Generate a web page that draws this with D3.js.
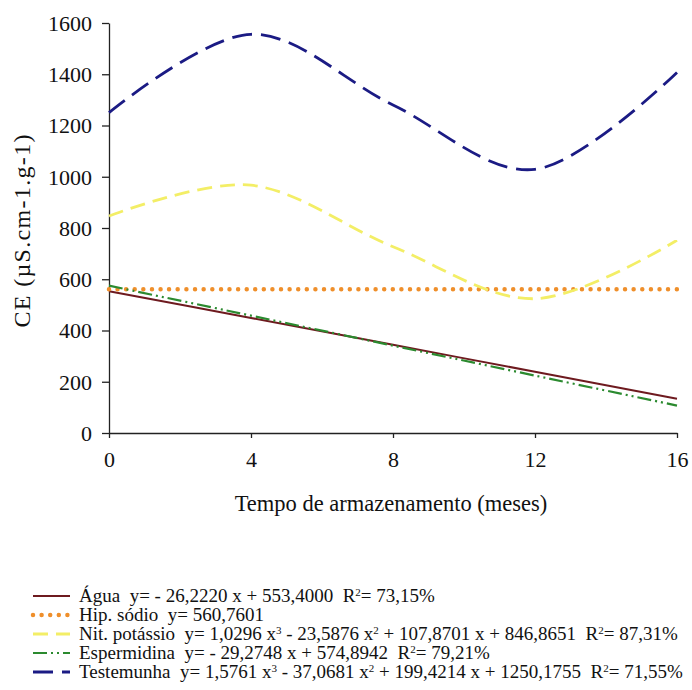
<!DOCTYPE html>
<html>
<head>
<meta charset="utf-8">
<script src="https://cdn.jsdelivr.net/npm/d3@7"></script>
<style>
  body { margin: 0; background: #fff; }
</style>
</head>
<body>
<div id="chart"></div>
<script>
// storage months (sampling points)
const months = [0, 4, 8, 12, 16];
const xTicks = [0, 4, 8, 12, 16];
const yTicks = [0, 200, 400, 600, 800, 1000, 1200, 1400, 1600];

// values at each month
const agua = [553, 449, 344, 239, 134];
const hipSodio = [561, 561, 561, 561, 561];
const nitPotassio = [847, 967, 727, 524, 752];
const espermidina = [575, 458, 341, 224, 107];
const testemunha = [1250, 1556, 1280, 1029, 1407];

const seriesNames = ["Água", "Hip. sódio", "Nit. potássio", "Espermidina", "Testemunha"];
const seriesValues = [agua, hipSodio, nitPotassio, espermidina, testemunha];
const legendLabels = [
  [["Água  y= - 26,2220 x + 553,4000  R"], ["2", 1], ["= 73,15%"]],
  [["Hip. sódio  y= 560,7601"]],
  [["Nit. potássio  y= 1,0296 x"], ["3", 1], [" - 23,5876 x"], ["2", 1], [" + 107,8701 x + 846,8651  R"], ["2", 1], ["= 87,31%"]],
  [["Espermidina  y= - 29,2748 x + 574,8942  R"], ["2", 1], ["= 79,21%"]],
  [["Testemunha  y= 1,5761 x"], ["3", 1], [" - 37,0681 x"], ["2", 1], [" + 199,4214 x + 1250,1755  R"], ["2", 1], ["= 71,55%"]]
];

const FONT = "Liberation Serif";

const styles = [
  { color: "#6e1a1f", width: 2, dash: null, cap: "butt" },
  { color: "#ef8f2b", width: 4.5, dash: "0 8.6", cap: "round" },
  { color: "#f3ee66", width: 2.8, dash: "15 8", cap: "butt" },
  { color: "#2b8a2f", width: 2.2, dash: "14 4 2 4 2 4", cap: "butt" },
  { color: "#1b1b84", width: 2.8, dash: "20 9", cap: "butt" }
];

const W = 692, H = 690;
const margin = { top: 23, left: 109, right: 15, bottom: 257 };

const svg = d3.select("#chart").append("svg")
  .attr("width", W).attr("height", H)
  .attr("viewBox", `0 0 ${W} ${H}`)
  .attr("font-family", FONT);

const x = d3.scaleLinear().domain([0, 16]).range([margin.left, W - margin.right]);
const y = d3.scaleLinear().domain([0, 1600]).range([H - margin.bottom, margin.top]);

// axes
const xAxis = svg.append("g")
  .attr("transform", `translate(0,${y(0)})`)
  .call(d3.axisBottom(x).tickValues(xTicks).tickFormat(d3.format("d"))
    .tickSize(5).tickSizeOuter(0).tickPadding(8));

const yAxis = svg.append("g")
  .attr("transform", `translate(${x(0)},0)`)
  .call(d3.axisLeft(y).tickValues(yTicks).tickFormat(d3.format("d"))
    .tickSize(7).tickSizeOuter(0).tickPadding(10));

svg.selectAll(".tick text")
  .attr("font-family", FONT)
  .attr("font-size", 22)
  .attr("fill", "#111");
xAxis.selectAll("text").attr("dy", "0.95em");
yAxis.selectAll("text").attr("dy", "0.34em");

svg.selectAll(".domain, .tick line").attr("stroke", "#222").attr("stroke-width", 1.3);

svg.append("text")
  .attr("x", (x(0) + x(16)) / 2 - 2)
  .attr("y", 511)
  .attr("text-anchor", "middle")
  .attr("font-size", 22.5)
  .attr("fill", "#111")
  .text("Tempo de armazenamento (meses)");

svg.append("text")
  .attr("transform", `translate(30,${y(800) + 3}) rotate(-90)`)
  .attr("text-anchor", "middle")
  .attr("font-size", 24)
  .attr("textLength", 193)
  .attr("lengthAdjust", "spacing")
  .attr("fill", "#111")
  .text("CE (µS.cm-1.g-1)");

// lines (smoothed through the sampling months)
const line = d3.line()
  .x((d, i) => x(months[i]))
  .y(d => y(d))
  .curve(d3.curveCardinal.tension(0));

svg.append("g").selectAll("path")
  .data(seriesValues)
  .enter()
  .append("path")
  .attr("d", d => line(d))
  .attr("fill", "none")
  .attr("stroke", (d, i) => styles[i].color)
  .attr("stroke-width", (d, i) => styles[i].width)
  .attr("stroke-dasharray", (d, i) => styles[i].dash)
  .attr("stroke-linecap", (d, i) => styles[i].cap);

// legend
const legend = svg.append("g");
const rowY = d3.scaleLinear().domain([0, 4]).range([596, 672]);

seriesNames.forEach((name, i) => {
  const st = styles[i];
  legend.append("line")
    .attr("x1", 33).attr("x2", 70)
    .attr("y1", rowY(i)).attr("y2", rowY(i))
    .attr("stroke", st.color)
    .attr("stroke-width", st.width)
    .attr("stroke-dasharray", st.dash)
    .attr("stroke-linecap", st.cap);

  const t = legend.append("text")
    .attr("x", 79)
    .attr("y", rowY(i) + 6)
    .attr("xml:space", "preserve")
    .attr("font-size", 19)
    .style("white-space", "pre")
    .attr("fill", "#111");
  legendLabels[i].forEach(seg => {
    const sp = t.append("tspan").text(seg[0]);
    if (seg[1]) sp.attr("baseline-shift", "super").attr("font-size", 11);
  });
});
</script>
</body>
</html>
